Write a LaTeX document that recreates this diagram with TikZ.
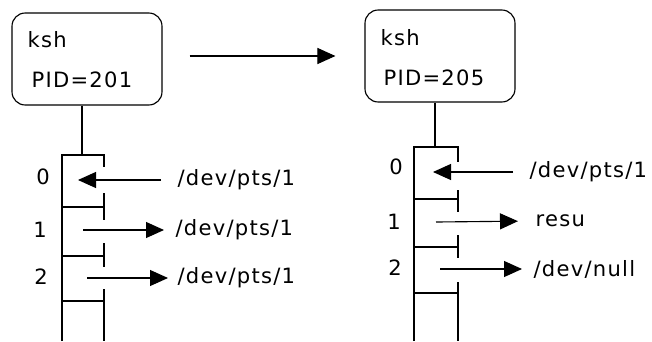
\documentclass[tikz,border=0pt]{standalone}
\usepackage{fontspec}
\setmainfont{DejaVu Sans}[LetterSpace=6]
\usetikzlibrary{arrows.meta}

\begin{document}
\begin{tikzpicture}[thick, x=0.25mm, y=-0.25mm,
		proc/.style={draw, rounded corners=3.3mm, minimum width=37.5mm, minimum height=23mm},
		txt/.style={anchor=west, inner sep=0pt, font=\fontsize{15pt}{17pt}\selectfont},
		num/.style={inner sep=0pt, font=\fontsize{15pt}{17pt}\selectfont},
		arr/.style={-{Triangle[length=4.5mm, width=4mm]}}]
		\useasboundingbox (0,0) rectangle (652,341);
		
		% the two shells
		\node [proc] (sh1) at (87,59) {};
		\node [proc] (sh2) at (440,56) {};
		\node [txt] (ksh1) at (27,40) {ksh};
		\node [txt] (pid1) at (31,80) {PID=201};
		\node [txt] (ksh2) at (380,38) {ksh};
		\node [txt] (pid2) at (383,78) {PID=205};
		\draw [arr, shorten <=6.75mm, shorten >=7.25mm] (sh1.east |- sh2.west) -- (sh2.west);
		
		% descriptor table of 201
		\coordinate (top1) at (82,155);
		\draw (top1 |- sh1.south) -- (top1);
		\draw (62,341) -- (62,155) -- (104,155) -- (104,167);
		\draw (62,207) -- (104,207);
		\draw (104,193) -- (104,220);
		\draw (62,256) -- (104,256);
		\draw (104,243) -- (104,267);
		\draw (62,301) -- (104,301);
		\draw (104,289) -- (104,341);
		
		\node [num] (n10) at (43,177) {0};
		\node [num] (n11) at (40,230) {1};
		\node [num] (n12) at (41,277) {2};
		
		\coordinate (c10) at (78,180);
		\coordinate (c11) at (83,230);
		\coordinate (c12) at (87,278);
		\node [txt] (l10) at (177,180) {/dev/pts/1};
		\node [txt] (l11) at (175,230) {/dev/pts/1};
		\node [txt] (l12) at (177,278) {/dev/pts/1};
		\draw [arr, shorten <=4mm] (l10.west) -- (c10);
		\draw [arr, shorten >=2.75mm] (c11) -- (l11.west);
		\draw [arr, shorten >=2.25mm] (c12) -- (l12.west);
		
		% descriptor table of 205
		\coordinate (top2) at (435,147);
		\draw (top2 |- sh2.south) -- (top2);
		\draw (414,341) -- (414,147) -- (458,147) -- (458,162);
		\draw (414,199) -- (458,199);
		\draw (458,190) -- (458,212);
		\draw (414,247) -- (458,247);
		\draw (458,235) -- (458,258);
		\draw (414,293) -- (458,293);
		\draw (458,282) -- (458,341);
		
		\node [num] (n20) at (396,167) {0};
		\node [num] (n21) at (394,222) {1};
		\node [num] (n22) at (395,268) {2};
		
		\coordinate (c20) at (433,172);
		\coordinate (c21) at (436,222);
		\coordinate (c22) at (440,269);
		\node [txt] (l20) at (529,172) {/dev/pts/1};
		\node [txt] (l21) at (535,221) {resu};
		\node [txt] (l22) at (533,269) {/dev/null};
		\draw [arr, shorten <=4mm] (l20.west) -- (c20);
		\draw [arr, shorten >=4.25mm] (c21) -- (l21.west);
		\draw [arr, shorten >=2.75mm] (c22) -- (l22.west);
	\end{tikzpicture}
\end{document}
